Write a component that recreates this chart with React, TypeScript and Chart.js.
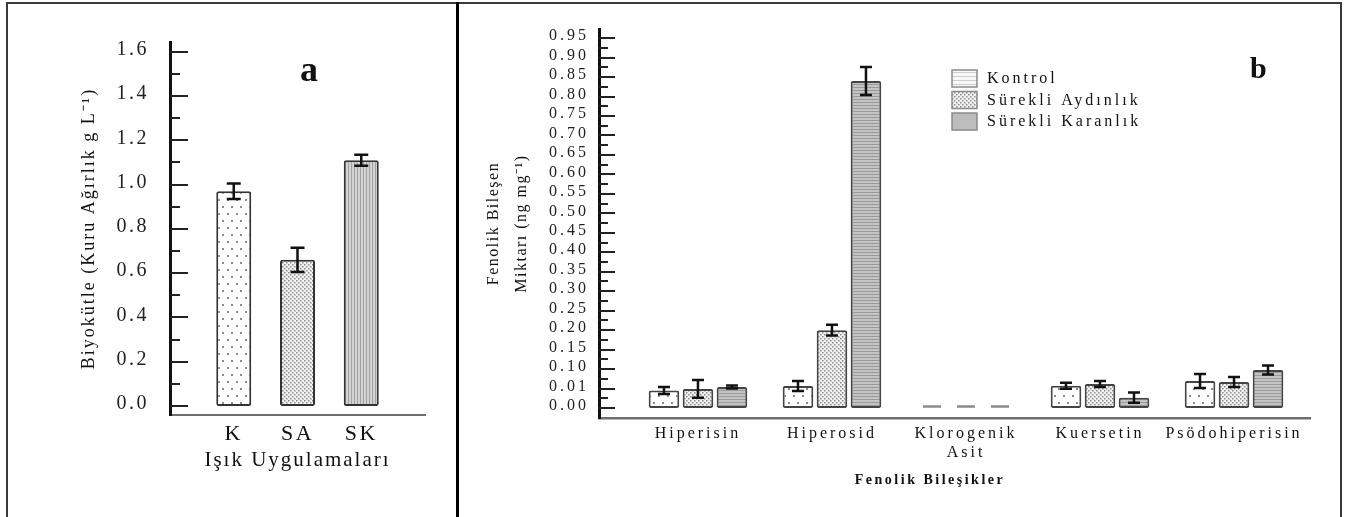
import React, { useEffect, useRef } from 'react';
import { Chart, registerables } from 'chart.js';

Chart.register(...registerables);

const SERIF = "'Liberation Serif', 'Times New Roman', Times, serif";
Chart.defaults.font.family = SERIF;
Chart.defaults.color = '#111';

// ---------------- Panel a data ----------------
const treatments = ['K', 'SA', 'SK'];
const biomass = [0.97, 0.66, 1.11];
const biomassErr = [0.035, 0.055, 0.025];
const biomassTickLabels = ['0.0', '0.2', '0.4', '0.6', '0.8', '1.0', '1.2', '1.4', '1.6'];
const biomassTitle = 'Biyokütle (Kuru Ağırlık g L⁻¹)';
const treatmentTitle = 'Işık Uygulamaları';

// ---------------- Panel b data ----------------
const compoundLabels = [['Hiperisin'], ['Hiperosid'], ['Klorogenik', 'Asit'], ['Kuersetin'], ['Psödohiperisin']];
const seriesNames = ['Kontrol', 'Sürekli Aydınlık', 'Sürekli Karanlık'];
const kontrol = [0.009, 0.022, 0, 0.023, 0.045];
const surekliAydinlik = [0.0098, 0.2, 0, 0.031, 0.04];
const surekliKaranlik = [0.017, 0.84, 0, 0.0053, 0.096];
const kontrolErr = [0.0018, 0.023, 0, 0.014, 0.032];
const aydinlikErr = [0.0046, 0.014, 0, 0.014, 0.023];
const karanlikErr = [0.007, 0.036, 0, 0.0026, 0.021];
const phenolTickLabels = [
  '0.00', '0.01', '0.10', '0.15', '0.20', '0.25', '0.30', '0.35', '0.40', '0.45',
  '0.50', '0.55', '0.60', '0.65', '0.70', '0.75', '0.80', '0.85', '0.90', '0.95',
];
const phenolTitle = ['Fenolik Bileşen', 'Miktarı (ng mg⁻¹)'];
const compoundTitle = 'Fenolik Bileşikler';

// broken (piecewise) value axis of panel b: value -> tick-index units
const phenolTickValues = phenolTickLabels.map((t) => parseFloat(t));
function segmentOf(v: number) {
  let k = 0;
  while (k < phenolTickValues.length - 2 && v > phenolTickValues[k + 1]) k++;
  return k;
}
function toAxis(v: number) {
  const k = segmentOf(v);
  return k + (v - phenolTickValues[k]) / (phenolTickValues[k + 1] - phenolTickValues[k]);
}
function localStep(v: number) {
  const k = segmentOf(v);
  return phenolTickValues[k + 1] - phenolTickValues[k];
}

// ---------------- fills ----------------
function pattern(w: number, h: number, bg: string, paint: (g: CanvasRenderingContext2D) => void) {
  const c = document.createElement('canvas');
  c.width = w;
  c.height = h;
  const g = c.getContext('2d') as CanvasRenderingContext2D;
  g.fillStyle = bg;
  g.fillRect(0, 0, w, h);
  paint(g);
  return g.createPattern(c, 'repeat') as CanvasPattern;
}
const sparseDots = () =>
  pattern(9, 14, '#ffffff', (g) => {
    g.fillStyle = '#8c8c8c';
    g.fillRect(2, 3, 2, 2);
    g.fillRect(6, 10, 2, 2);
  });
const denseDots = () =>
  pattern(4, 4, '#f2f2f2', (g) => {
    g.fillStyle = '#8a8a8a';
    g.fillRect(0, 0, 1.5, 1.5);
    g.fillRect(2, 2, 1.5, 1.5);
  });
const vLines = () =>
  pattern(3, 3, '#d2d2d2', (g) => {
    g.fillStyle = '#a2a2a2';
    g.fillRect(0, 0, 1, 3);
  });
const hLines = () =>
  pattern(3, 3, '#c4c4c4', (g) => {
    g.fillStyle = '#9a9a9a';
    g.fillRect(0, 0, 3, 1);
  });
const legendStripes = () =>
  pattern(4, 4, '#f8f8f8', (g) => {
    g.fillStyle = '#cfcfcf';
    g.fillRect(0, 0, 4, 1);
  });

// ---------------- plugins ----------------
function spacingPlugin(titleSpacing: string, tickSpacing: string) {
  return {
    id: 'spacing',
    beforeDraw(chart: any) {
      chart.ctx.letterSpacing = titleSpacing;
    },
    afterDatasetsDraw(chart: any) {
      chart.ctx.letterSpacing = tickSpacing;
    },
  };
}

function errorBarsPlugin(opts: { axis?: (v: number) => number; step?: (v: number) => number; cap: number }) {
  return {
    id: 'errorBars',
    afterDatasetsDraw(chart: any) {
      const { ctx } = chart;
      const yScale = chart.scales.y;
      chart.data.datasets.forEach((ds: any, di: number) => {
        const meta = chart.getDatasetMeta(di);
        const raws = ds.rawValues || ds.data;
        meta.data.forEach((el: any, i: number) => {
          const v = raws[i];
          const e = ds.errors ? ds.errors[i] : null;
          if (v == null || !e) return;
          let top: number, bot: number;
          if (opts.axis && opts.step) {
            const u = opts.axis(v);
            const du = e / opts.step(v);
            top = yScale.getPixelForValue(u + du);
            bot = yScale.getPixelForValue(u - du);
          } else {
            top = yScale.getPixelForValue(v + e);
            bot = yScale.getPixelForValue(v - e);
          }
          ctx.save();
          ctx.strokeStyle = '#111';
          ctx.lineWidth = 2.5;
          ctx.beginPath();
          ctx.moveTo(el.x, top);
          ctx.lineTo(el.x, bot);
          ctx.moveTo(el.x - opts.cap, top);
          ctx.lineTo(el.x + opts.cap, top);
          ctx.moveTo(el.x - opts.cap, bot);
          ctx.lineTo(el.x + opts.cap, bot);
          ctx.stroke();
          ctx.restore();
        });
      });
    },
  };
}

function zeroDashPlugin(axis: (v: number) => number) {
  return {
    id: 'zeroDash',
    afterDatasetsDraw(chart: any) {
      const { ctx } = chart;
      const yScale = chart.scales.y;
      chart.data.datasets.forEach((ds: any, di: number) => {
        const meta = chart.getDatasetMeta(di);
        meta.data.forEach((el: any, i: number) => {
          if (ds.rawValues[i] !== 0) return;
          const y = yScale.getPixelForValue(axis(0)) - 1.5;
          ctx.save();
          ctx.strokeStyle = '#8a8a8a';
          ctx.lineWidth = 2.5;
          ctx.beginPath();
          ctx.moveTo(el.x - 9, y);
          ctx.lineTo(el.x + 9, y);
          ctx.stroke();
          ctx.restore();
        });
      });
    },
  };
}

function inwardTicksPlugin(major: number[], majorLen: number, minorLen: number) {
  const minor: number[] = [];
  for (let i = 0; i < major.length - 1; i++) minor.push((major[i] + major[i + 1]) / 2);
  return {
    id: 'inwardTicks',
    afterDraw(chart: any) {
      const { ctx, chartArea } = chart;
      const yScale = chart.scales.y;
      ctx.save();
      ctx.strokeStyle = '#222';
      ctx.lineWidth = 2;
      ctx.beginPath();
      major.forEach((v) => {
        const y = Math.round(yScale.getPixelForValue(v));
        ctx.moveTo(chartArea.left, y);
        ctx.lineTo(chartArea.left + majorLen, y);
      });
      minor.forEach((v) => {
        const y = Math.round(yScale.getPixelForValue(v));
        ctx.moveTo(chartArea.left, y);
        ctx.lineTo(chartArea.left + minorLen, y);
      });
      ctx.stroke();
      ctx.restore();
    },
  };
}

const panelATextPlugin = {
  id: 'panelAText',
  afterDraw(chart: any) {
    const { ctx } = chart;
    ctx.save();
    ctx.letterSpacing = '0px';
    ctx.fillStyle = '#111';
    ctx.font = `bold 36px ${SERIF}`;
    ctx.textAlign = 'left';
    ctx.textBaseline = 'alphabetic';
    ctx.fillText('a', 300, 81);
    ctx.restore();
  },
};

function panelBTextPlugin(legendFills: any[]) {
  return {
    id: 'panelBText',
    afterDraw(chart: any) {
      const { ctx, chartArea } = chart;
      ctx.save();
      ctx.fillStyle = '#111';
      ctx.letterSpacing = '0px';
      ctx.font = `bold 30px ${SERIF}`;
      ctx.textAlign = 'left';
      ctx.textBaseline = 'alphabetic';
      ctx.fillText('b', 792, 78);

      // x-axis title
      ctx.letterSpacing = '2.5px';
      ctx.font = `bold 14px ${SERIF}`;
      ctx.textAlign = 'center';
      ctx.textBaseline = 'middle';
      ctx.fillText(compoundTitle, chartArea.left + 331, 480);

      // legend
      ctx.letterSpacing = '3px';
      ctx.font = `16px ${SERIF}`;
      ctx.textAlign = 'left';
      chart.data.datasets.forEach((ds: any, i: number) => {
        const top = 70 + i * 21.5;
        ctx.fillStyle = legendFills[i];
        ctx.fillRect(494, top, 25, 17);
        ctx.strokeStyle = '#8a8a8a';
        ctx.lineWidth = 1.5;
        ctx.strokeRect(494, top, 25, 17);
        ctx.fillStyle = '#111';
        ctx.fillText(ds.label, 529, top + 9);
      });
      ctx.restore();
    },
  };
}

// ---------------- configs ----------------
function configA(): any {
  const labels = ['', ...treatments, ''];
  const padNull = (arr: number[]) => [null, ...arr, null];
  return {
    type: 'bar',
    data: {
      labels,
      datasets: [
        {
          label: 'Biyokütle',
          data: padNull(biomass),
          errors: padNull(biomassErr),
          backgroundColor: [null, sparseDots(), denseDots(), vLines(), null],
          borderColor: '#333',
          borderWidth: 2,
          borderSkipped: false,
          borderRadius: 2,
          barThickness: 35,
          inflateAmount: 0,
        },
      ],
    },
    options: {
      responsive: false,
      animation: false,
      events: [],
      layout: { padding: { top: 42, right: 33, bottom: 0, left: 0 } },
      plugins: { legend: { display: false }, tooltip: { enabled: false } },
      scales: {
        x: {
          type: 'category',
          offset: false,
          grid: { display: false, drawTicks: false },
          border: { display: true, color: '#6e6e6e', width: 2 },
          ticks: { z: 1, padding: 6, autoSkip: false, maxRotation: 0, font: { size: 22 }, color: '#111' },
          title: {
            display: true,
            text: treatmentTitle,
            font: { size: 21 },
            color: '#111',
            padding: { top: 0, bottom: 44 },
          },
          afterFit: (s: any) => {
            s.height = 102;
          },
        },
        y: {
          type: 'linear',
          min: -0.0407,
          max: 1.644,
          afterBuildTicks: (s: any) => {
            s.ticks = biomassTickLabels.map((t) => ({ value: parseFloat(t) }));
          },
          ticks: {
            z: 1,
            padding: 21,
            labelOffset: -2,
            autoSkip: false,
            font: { size: 20 },
            color: '#222',
            callback: (v: any) => biomassTickLabels.find((t) => Math.abs(parseFloat(t) - v) < 1e-6) || '',
          },
          grid: { display: false, drawTicks: false },
          border: { display: true, color: '#111', width: 3 },
          title: {
            display: true,
            text: biomassTitle,
            font: { size: 18 },
            color: '#111',
            padding: { top: 78, bottom: 0 },
          },
          afterFit: (s: any) => {
            s.width = 170;
          },
        },
      },
    },
    plugins: [
      spacingPlugin('2px', '2.5px'),
      errorBarsPlugin({ cap: 7 }),
      inwardTicksPlugin(biomassTickLabels.map((t) => parseFloat(t)), 18, 10),
      panelATextPlugin,
    ],
  };
}

function configB(): any {
  const values = [kontrol, surekliAydinlik, surekliKaranlik];
  const errors = [kontrolErr, aydinlikErr, karanlikErr];
  const fills = [sparseDots(), denseDots(), hLines()];
  const legendFills = [legendStripes(), denseDots(), '#bdbdbd'];
  return {
    type: 'bar',
    data: {
      datasets: seriesNames.map((name, si) => ({
        label: name,
        data: values[si].map((v, i) => ({ x: i, y: toAxis(v) })),
        rawValues: values[si],
        errors: errors[si],
        backgroundColor: fills[si],
        borderColor: '#444',
        borderWidth: 2,
        borderSkipped: false,
        borderRadius: 2,
        categoryPercentage: 0.761,
        barPercentage: 0.9,
        inflateAmount: 0,
      })),
    },
    options: {
      responsive: false,
      animation: false,
      events: [],
      layout: { padding: { top: 29, right: 36, bottom: 0, left: 0 } },
      plugins: { legend: { display: false }, tooltip: { enabled: false } },
      scales: {
        x: {
          type: 'linear',
          offset: false,
          min: -0.7385,
          max: 4.567,
          afterBuildTicks: (s: any) => {
            s.ticks = compoundLabels.map((_, i) => ({ value: i }));
          },
          grid: { display: false, drawTicks: false },
          border: { display: true, color: '#6e6e6e', width: 2.5 },
          ticks: {
            z: 1,
            padding: 6,
            autoSkip: false,
            maxRotation: 0,
            font: { size: 16 },
            color: '#111',
            callback: (v: any) => compoundLabels[Math.round(v)] || '',
          },
          afterFit: (s: any) => {
            s.height = 99;
          },
        },
        y: {
          type: 'linear',
          min: -0.514,
          max: 19.47,
          afterBuildTicks: (s: any) => {
            s.ticks = phenolTickLabels.map((_, i) => ({ value: i }));
          },
          ticks: {
            z: 1,
            padding: 10,
            labelOffset: -2,
            autoSkip: false,
            font: { size: 16 },
            color: '#222',
            callback: (v: any) => phenolTickLabels[Math.round(v)] || '',
          },
          grid: { display: false, drawTicks: false },
          border: { display: true, color: '#111', width: 3 },
          title: {
            display: true,
            text: phenolTitle,
            font: { size: 16, lineHeight: '28px' },
            color: '#111',
            padding: { top: 22, bottom: 0 },
          },
          afterFit: (s: any) => {
            s.width = 141;
          },
        },
      },
    },
    plugins: [
      spacingPlugin('1.5px', '3px'),
      errorBarsPlugin({ axis: toAxis, step: localStep, cap: 6 }),
      zeroDashPlugin(toAxis),
      inwardTicksPlugin(phenolTickLabels.map((_, i) => i), 16, 9),
      panelBTextPlugin(legendFills),
    ],
  };
}

export default function App() {
  const refA = useRef<HTMLCanvasElement>(null);
  const refB = useRef<HTMLCanvasElement>(null);
  useEffect(() => {
    const a = new Chart(refA.current as HTMLCanvasElement, configA());
    const b = new Chart(refB.current as HTMLCanvasElement, configB());
    return () => {
      a.destroy();
      b.destroy();
    };
  }, []);
  const line = (left: number, top: number, width: number, height: number, color: string) => (
    <div style={{ position: 'absolute', left, top, width, height, background: color }} />
  );
  return (
    <div
      style={{
        position: 'absolute',
        left: 0,
        top: 0,
        width: 1346,
        height: 517,
        background: '#fff',
        overflow: 'hidden',
      }}
    >
      <canvas
        ref={refA}
        width={458}
        height={517}
        style={{ position: 'absolute', left: 0, top: 0, width: 458, height: 517 }}
      />
      <canvas
        ref={refB}
        width={888}
        height={517}
        style={{ position: 'absolute', left: 458, top: 0, width: 888, height: 517 }}
      />
      {line(6, 2, 1336, 2, '#3a3a3a')}
      {line(6, 2, 2, 515, '#3a3a3a')}
      {line(1340, 2, 2, 515, '#3a3a3a')}
      {line(456, 2, 3, 515, '#000')}
    </div>
  );
}
